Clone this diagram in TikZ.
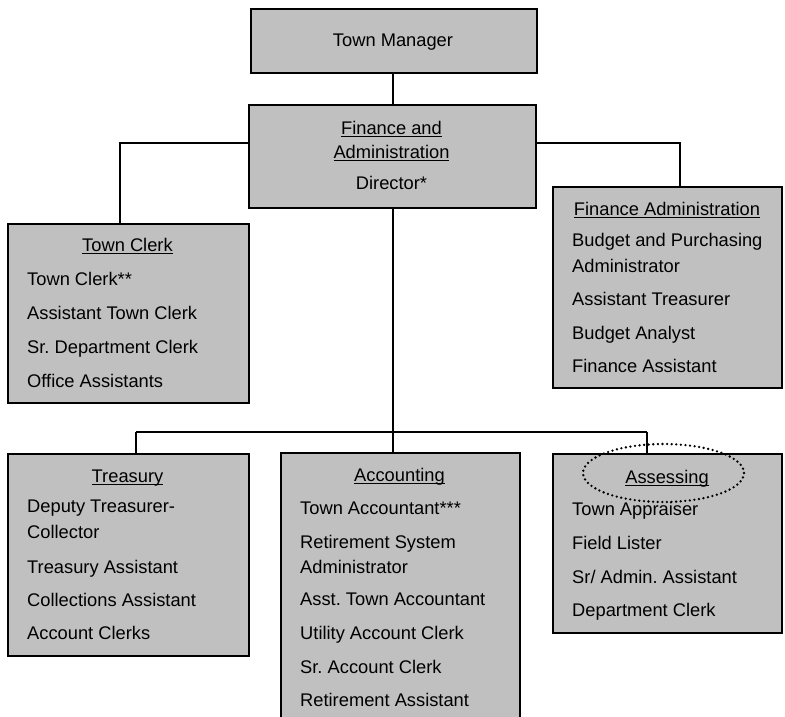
\documentclass[tikz,border=0pt]{standalone}
\usepackage{fontspec}
\setmainfont{Liberation Sans}
\frenchspacing
\definecolor{boxgray}{RGB}{192,192,192}
\newcommand\hdrul[1]{\setbox0\hbox{#1}\rlap{\rule[-2.8pt]{\wd0}{1.2pt}}\box0}
\tikzset{
  box/.style={draw=black, line width=2pt, fill=boxgray, inner sep=0pt, anchor=north west},
  txt/.style={inner sep=0pt, text height=13pt, text depth=0pt, font=\fontsize{18.3}{22}\selectfont\frenchspacing},
  item/.style={txt, anchor=west},
  hdr/.style={txt, anchor=center},
  link/.style={draw=black, line width=2pt},
  ring/.style={draw=black, line width=2.6pt, dash pattern=on 0pt off 4.6pt, line cap=round}
}
\begin{document}
\begin{tikzpicture}[x=1pt,y=-1pt]
\useasboundingbox (0,0) rectangle (785,717);
\clip (0,0) rectangle (785,717);
% boxes
\node[box, minimum width=286pt, minimum height=64pt] (tm) at (250,8) {};
\node[box, minimum width=287pt, minimum height=103pt] (fin) at (248,104) {};
\node[box, minimum width=241pt, minimum height=179pt] (tc) at (7,223) {};
\node[box, minimum width=229pt, minimum height=201pt] (fa) at (552,186) {};
\node[box, minimum width=241pt, minimum height=202pt] (tr) at (7,453) {};
\node[box, minimum width=239pt, minimum height=300pt] (ac) at (280,452) {};
\node[box, minimum width=229pt, minimum height=179pt] (as) at (552,453) {};
% junctions
\coordinate (jl) at (120,143);
\coordinate (jr) at (680,143);
\coordinate (jm) at (393,432);
\coordinate (jtr) at (136,432);
\coordinate (jas) at (647,432);
% connectors
\draw[link] (tm.south -| jm) -- (fin.north -| jm);
\draw[link] (fin.west |- jl) -| (tc.north -| jl);
\draw[link] (fin.east |- jr) -| (fa.north -| jr);
\draw[link] (fin.south -| jm) -- (ac.north -| jm);
\draw[link] (jtr) -- (jas);
\draw[link] (jtr) -- (tr.north -| jtr);
\draw[link] (jas) -- (as.north -| jas);
% texts
\node[hdr] (tmt) at (393,40) {Town Manager};
\node[hdr] (fh1) at (391.5,128) {\hdrul{Finance and}};
\node[hdr] (fh2) at (391.5,152) {\hdrul{Administration}};
\node[hdr] (fdir) at (391.5,183) {Director*};

\node[hdr] (tch) at (127.5,245) {\hdrul{Town Clerk}};
\foreach \t/\y [count=\i] in {Town Clerk**/279, Assistant Town Clerk/313, Sr. Department Clerk/347, Office Assistants/381}
  \node[item] (tc\i) at (27,\y) {\t};

\node[hdr] (fah) at (667,209) {\hdrul{Finance Administration}};
\foreach \t/\y [count=\i] in {Budget and Purchasing/240, Administrator/266, Assistant Treasurer/299, Budget Analyst/333, Finance Assistant/366}
  \node[item] (fa\i) at (572,\y) {\t};

\node[hdr] (trh) at (127.5,476) {\hdrul{Treasury}};
\foreach \t/\y [count=\i] in {Deputy Treasurer-/506, Collector/532, Treasury Assistant/567, Collections Assistant/600, Account Clerks/633}
  \node[item] (tr\i) at (27,\y) {\t};

\node[hdr] (ach) at (399.5,475) {\hdrul{Accounting}};
\foreach \t/\y [count=\i] in {Town Accountant***/508, Retirement System/542, Administrator/567, Asst. Town Accountant/599, Utility Account Clerk/633, Sr. Account Clerk/667, Retirement Assistant/700}
  \node[item] (ac\i) at (300,\y) {\t};

\node[hdr] (ash) at (667,477) {\hdrul{Assessing}};
\foreach \t/\y [count=\i] in {Town Appraiser/509, Field Lister/543, {Sr/ Admin. Assistant}/577, Department Clerk/610}
  \node[item] (as\i) at (572,\y) {\t};

% dotted highlight round the Assessing heading
\draw[ring] (663.5,473) ellipse [x radius=80.5, y radius=29];
\end{tikzpicture}
\end{document}
